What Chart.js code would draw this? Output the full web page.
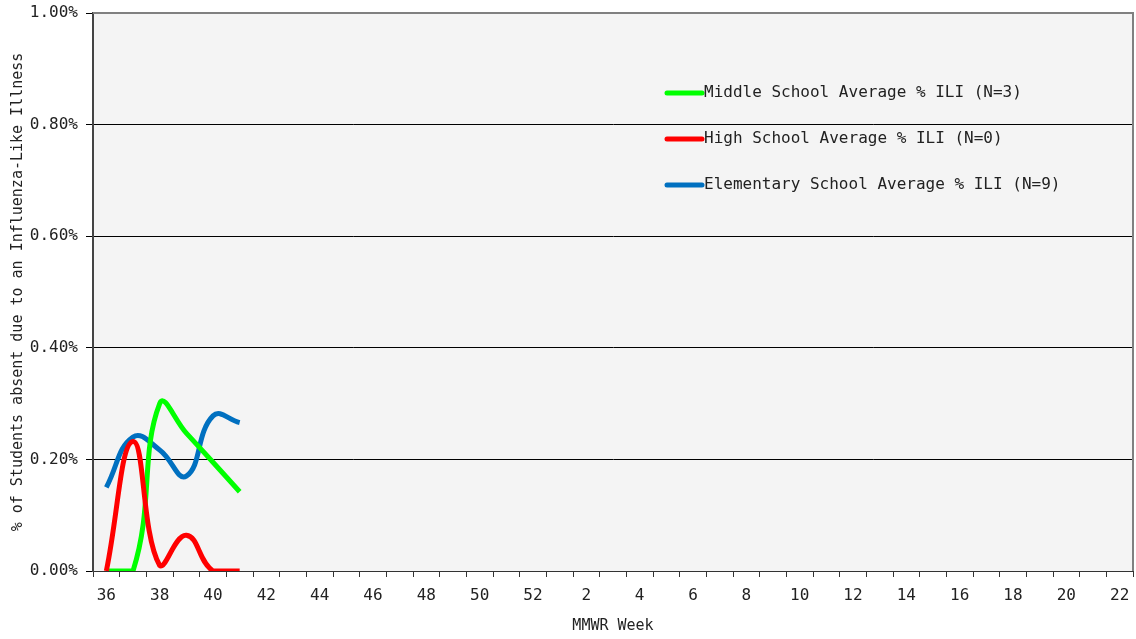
<!DOCTYPE html>
<html>
<head>
<meta charset="utf-8">
<script src="https://cdn.jsdelivr.net/npm/chart.js@4"></script>
<style>
  html, body { margin: 0; padding: 0; background: #fff; }
  #wrap { width: 1136px; height: 639px; }
</style>
</head>
<body>
<div id="wrap"><canvas id="iliChart" width="1136" height="639"></canvas></div>
<script>
    // MMWR weeks, season runs 36..52 then 1..22
    const weeks = ['36','37','38','39','40','41','42','43','44','45','46','47','48','49','50','51','52',
        '1','2','3','4','5','6','7','8','9','10','11','12','13','14','15','16','17','18','19','20','21','22'];
    const middleSchool = [0, 0, 0.30, 0.247, 0.195, 0.142];
    const highSchool = [0, 0.232, 0.01, 0.064, 0, 0];
    const elementary = [0.150, 0.240, 0.217, 0.170, 0.278, 0.266];
    const seriesNames = [
        'Middle School Average % ILI (N=3)',
        'High School Average % ILI (N=0)',
        'Elementary School Average % ILI (N=9)'
    ];
    const seriesColors = ['#00ff00', '#ff0000', '#0070c0'];

    const FONT = "'DejaVu Sans Mono', monospace";

    // grey plot background + grey frame on top/right
    const plotBg = {
        id: 'plotBg',
        beforeDraw(chart) {
            const { ctx, chartArea: a } = chart;
            ctx.save();
            ctx.fillStyle = '#f4f4f4';
            ctx.fillRect(a.left, a.top, a.right - a.left, a.bottom - a.top);
            ctx.restore();
        },
        afterDatasetsDraw(chart) {
            const { ctx, chartArea: a } = chart;
            ctx.save();
            ctx.strokeStyle = '#808080';
            ctx.lineWidth = 2;
            ctx.beginPath();
            ctx.moveTo(a.left, a.top);
            ctx.lineTo(a.right, a.top);
            ctx.lineTo(a.right, a.bottom);
            ctx.stroke();
            ctx.restore();
        }
    };

    // legend drawn inside the plot, like the original (order by series index)
    const innerLegend = {
        id: 'innerLegend',
        afterDraw(chart) {
            const { ctx, chartArea: a } = chart;
            const x0 = a.left + 0.55 * (a.right - a.left);
            ctx.save();
            ctx.font = '16px ' + FONT;
            ctx.textBaseline = 'middle';
            seriesNames.forEach((name, i) => {
                const y = a.top + 80 + i * 46;
                ctx.strokeStyle = seriesColors[i];
                ctx.lineWidth = 5;
                ctx.lineCap = 'round';
                ctx.beginPath();
                ctx.moveTo(x0 + 2, y);
                ctx.lineTo(x0 + 37, y);
                ctx.stroke();
                ctx.fillStyle = '#222';
                ctx.fillText(name, x0 + 39, y);
            });
            ctx.restore();
        }
    };

    const makeSet = (i, data) => ({
        label: seriesNames[i],
        data: data,
        borderColor: seriesColors[i],
        backgroundColor: seriesColors[i],
        borderWidth: 5,
        pointRadius: 0,
        tension: 0.45,
        fill: false
    });

    new Chart(document.getElementById('iliChart'), {
        type: 'line',
        data: {
            labels: weeks,
            datasets: [
                makeSet(1, highSchool),
                makeSet(0, middleSchool),
                makeSet(2, elementary)
            ]
        },
        options: {
            responsive: false,
            animation: false,
            layout: { padding: { top: 13, right: 3, left: 9, bottom: 0 } },
            plugins: {
                legend: { display: false },
                tooltip: { enabled: false }
            },
            scales: {
                x: {
                    offset: true,
                    grid: {
                        offset: true,
                        drawOnChartArea: false,
                        color: '#333',
                        tickLength: 6
                    },
                    border: { color: '#333', width: 1 },
                    ticks: {
                        autoSkip: false,
                        maxRotation: 0,
                        color: '#222',
                        font: { family: FONT, size: 16 },
                        padding: 9,
                        callback: function (v, i) { return i % 2 === 0 ? weeks[i] : ''; }
                    },
                    title: {
                        display: true,
                        text: 'MMWR Week',
                        color: '#222',
                        font: { family: FONT, size: 15 },
                        padding: { top: 6, bottom: 4 }
                    },
                    afterFit(scale) {
                        scale.height = 68;
                        scale.paddingLeft = 0;
                        scale.paddingRight = 0;
                    }
                },
                y: {
                    min: 0,
                    max: 1,
                    grid: { color: '#000', tickLength: 7 },
                    border: { color: '#444', width: 2 },
                    ticks: {
                        stepSize: 0.2,
                        color: '#222',
                        font: { family: FONT, size: 16 },
                        padding: 8,
                        callback: v => v.toFixed(2) + '%'
                    },
                    title: {
                        display: true,
                        text: '% of Students absent due to an Influenza-Like Illness',
                        color: '#222',
                        font: { family: FONT, size: 15 },
                        padding: { top: 0, bottom: 2 }
                    },
                    afterFit(scale) {
                        scale.width = 84;
                        scale.paddingTop = 0;
                        scale.paddingBottom = 0;
                    }
                }
            }
        },
        plugins: [plotBg, innerLegend]
    });
</script>
</body>
</html>
